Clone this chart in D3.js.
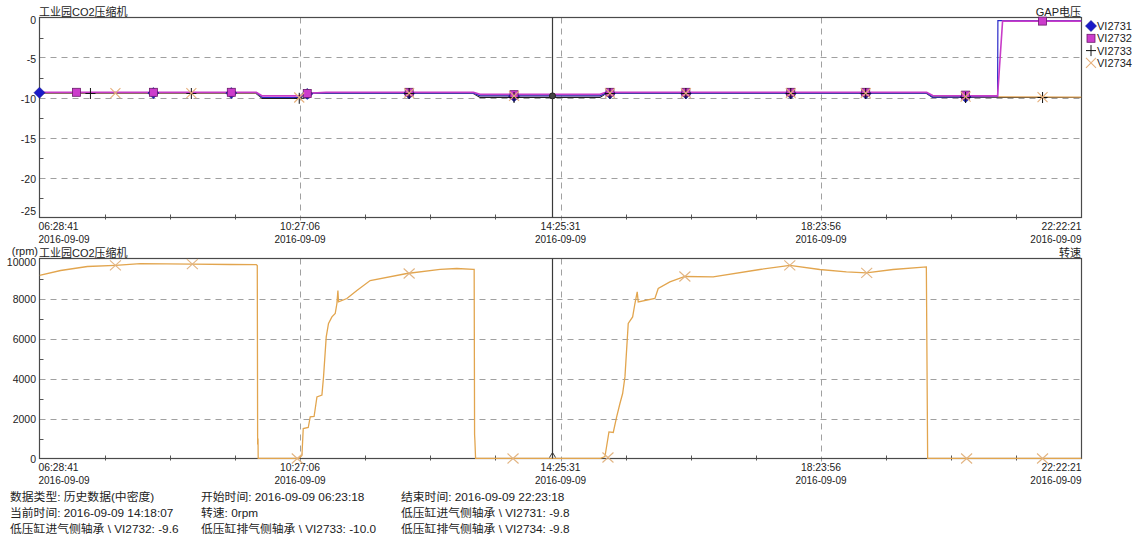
<!DOCTYPE html>
<html><head><meta charset="utf-8">
<script src="https://cdn.jsdelivr.net/npm/d3@7"></script>
<style>
body{margin:0;background:#fff}
svg{display:block}
text{font-family:"Liberation Sans",Arial,"Noto Sans CJK SC",sans-serif;fill:#222}
</style></head>
<body><svg id="c" width="1142" height="536"></svg>
<script>
// ---------- data ----------
const dateLabel = "2016-09-09";
const timeTicks = ["06:28:41","10:27:06","14:25:31","18:23:56","22:22:21"];
const cursorTime = "14:18:07";
const topYTicks = [0,-5,-10,-15,-20,-25];
const bottomYTicks = [0,2000,4000,6000,8000,10000];
const topTitle = "工业园CO2压缩机", topRight = "GAP电压";
const botUnit = "(rpm)", botTitle = "工业园CO2压缩机", botRight = "转速";
const seriesNames = ["VI2731","VI2732","VI2733","VI2734"];

const vi2731 = [["06:28:41",-9.4],["09:47:06",-9.4],["09:52:35",-10.0],["10:27:20",-10.0],["10:31:00",-9.45],
  ["13:05:47",-9.45],["13:11:55",-9.8],["15:01:38",-9.8],["15:07:07",-9.45],["20:00:38",-9.45],["20:06:07",-9.95],
  ["21:05:33",-9.9],["21:05:50",-0.4],["22:22:21",-0.4]];
const vi2732 = [["06:28:41",-9.35],["09:47:06",-9.35],["09:52:35",-9.8],["10:27:20",-9.8],["10:31:00",-9.5],
  ["10:51:00",-9.35],["13:05:47",-9.35],["13:11:55",-9.6],["15:01:38",-9.6],["15:07:07",-9.35],["20:00:38",-9.35],
  ["20:06:07",-9.75],["21:05:33",-9.8],["21:10:07",-0.45],["22:22:21",-0.45]];
const vi2733 = [["06:28:41",-9.5],["09:47:06",-9.5],["09:52:35",-10.1],["10:27:20",-10.1],["10:31:00",-9.5],
  ["13:05:47",-9.5],["13:11:55",-10.0],["15:01:38",-10.0],["15:07:07",-9.5],["20:00:38",-9.5],["20:06:07",-10.0],
  ["22:22:21",-10.0]];
const vi2734 = [["06:28:41",-9.45],["09:47:06",-9.45],["09:52:35",-10.0],["10:27:20",-10.0],["10:31:00",-9.45],
  ["13:05:47",-9.45],["13:11:55",-9.8],["15:01:38",-9.8],["15:07:07",-9.45],["20:00:38",-9.45],["20:06:07",-9.9],
  ["22:22:21",-9.95]];

const vi2731Marks = [["06:28:41",-9.4],["08:12:55",-9.45],["09:24:14",-9.45],["10:33:44",-9.55],["12:07:00",-9.5],
  ["13:43:00",-9.85],["15:10:47",-9.5],["16:20:16",-9.5],["17:56:16",-9.5],["19:04:51",-9.5],["20:36:17",-9.95]];
const vi2732Marks = [["07:02:31",-9.35],["08:12:55",-9.35],["09:24:14",-9.35],["10:33:44",-9.5],["12:07:00",-9.35],
  ["13:43:00",-9.65],["15:10:47",-9.35],["16:20:16",-9.35],["17:56:16",-9.35],["19:04:51",-9.35],["20:36:17",-9.7],
  ["21:46:42",-0.45]];
const vi2733Marks = [["07:15:19",-9.5],["08:47:40",-9.5],["10:26:25",-10.1],["12:07:00",-9.5],["13:43:00",-10.0],
  ["15:10:47",-9.5],["16:20:16",-9.5],["17:56:16",-9.5],["19:04:51",-9.5],["20:36:17",-10.0],["21:46:42",-10.0]];
const vi2734Marks = [["07:38:10",-9.45],["08:47:40",-9.45],["10:26:25",-10.0],["12:07:00",-9.45],["13:43:00",-9.8],
  ["15:10:47",-9.45],["16:20:16",-9.45],["17:56:16",-9.45],["19:04:51",-9.45],["20:36:17",-9.9],["21:46:42",-9.95]];

const rpm = [["06:28:41",9160],["06:48:00",9400],["07:12:30",9600],["07:38:10",9660],["08:01:00",9740],["08:48:35",9720],
  ["09:23:20",9700],["09:47:06",9690],["09:48:00",9650],["09:48:20",700],["09:48:40",1000],["09:48:50",0],
  ["10:25:57",0],["10:28:53",150],["10:30:04",1500],["10:34:39",1550],["10:36:28",2080],["10:40:00",2100],
  ["10:42:36",3080],["10:47:10",3170],["10:48:38",4080],["10:51:06",6080],["10:53:12",6750],["10:56:19",7080],
  ["10:59:20",7250],["11:00:53",7750],["11:01:48",8400],["11:02:21",7830],["11:10:02",8000],["11:19:10",8400],
  ["11:31:20",8900],["12:04:53",9250],["12:35:20",9460],["12:50:36",9500],["13:05:47",9460],["13:06:30",9460],
  ["13:06:53",1200],["13:07:10",900],["13:07:48",0],["15:01:38",0],["15:06:12",100],["15:09:52",1330],
  ["15:13:48",1300],["15:16:54",2080],["15:19:55",2750],["15:22:23",3250],["15:24:30",4080],["15:27:31",6750],
  ["15:31:32",7080],["15:33:38",7750],["15:35:44",8330],["15:36:39",7830],["15:51:55",8000],["15:54:57",8500],
  ["16:05:38",8830],["16:19:21",9100],["16:45:14",9080],["17:27:56",9450],["17:55:22",9660],["18:22:47",9450],
  ["18:47:12",9330],["19:05:29",9280],["19:29:49",9450],["20:00:21",9580],["20:01:32",0],["22:22:21",0]];
const rpmMarks = [["07:38:10",9660],["08:48:35",9720],["10:24:35",0],["12:07:00",9250],["13:42:05",0],["15:08:57",50],
  ["16:19:21",9100],["17:55:22",9660],["19:05:46",9280],["20:37:12",0],["21:46:42",0]];

const footer = [
  ["数据类型: 历史数据(中密度)","开始时间: 2016-09-09 06:23:18","结束时间: 2016-09-09 22:23:18"],
  ["当前时间: 2016-09-09 14:18:07","转速: 0rpm","低压缸进气侧轴承 \\ VI2731: -9.8"],
  ["低压缸进气侧轴承 \\ VI2732: -9.6","低压缸排气侧轴承 \\ VI2733: -10.0","低压缸排气侧轴承 \\ VI2734: -9.8"]];

// ---------- drawing ----------
const parse = s => { const p = s.split(":").map(Number); return new Date(2016,8,9,p[0],p[1],p[2]||0); };
const svg = d3.select("#c");
const X0 = 39.5, X1 = 1081.5;
const x = d3.scaleTime().domain([parse(timeTicks[0]), parse(timeTicks[timeTicks.length-1])]).range([X0, X1]);
const yTop = d3.scaleLinear().domain([-25,0]).range([217.5,17.5]);
const yBot = d3.scaleLinear().domain([0,10000]).range([458.5,258.5]);
const tickDates = timeTicks.map(parse);
const minorT = [];
for (let i=0;i<tickDates.length-1;i++) for (let j=1;j<4;j++)
  minorT.push(new Date(+tickDates[i] + (tickDates[i+1]-tickDates[i])*j/4));

function frame(y, ticks, id, labelY) {
  const [yb, yt] = y.range();
  const g = svg.append("g");
  g.append("rect").attr("x",X0).attr("y",yt).attr("width",X1-X0).attr("height",yb-yt).attr("fill","#fff");
  g.selectAll(null).data(ticks.slice(1,-1)).join("line")
    .attr("x1",X0).attr("x2",X1).attr("y1",d=>Math.round(y(d))+0.5).attr("y2",d=>Math.round(y(d))+0.5)
    .attr("stroke","#a0a0a0").attr("stroke-dasharray","6,5");
  g.selectAll(null).data(tickDates.slice(1,-1)).join("line")
    .attr("x1",d=>Math.round(x(d))+0.5).attr("x2",d=>Math.round(x(d))+0.5).attr("y1",yt).attr("y2",yb+3)
    .attr("stroke","#a0a0a0").attr("stroke-dasharray","6,5");
  const yminor = [];
  for (let i=0;i<ticks.length-1;i++) yminor.push((ticks[i]+ticks[i+1])/2);
  g.selectAll(null).data(yminor).join("line")
    .attr("x1",X0).attr("x2",X0+4).attr("y1",d=>Math.round(y(d))+0.5).attr("y2",d=>Math.round(y(d))+0.5)
    .attr("stroke","#555");
  g.selectAll(null).data(minorT).join("line")
    .attr("x1",d=>Math.round(x(d))+0.5).attr("x2",d=>Math.round(x(d))+0.5).attr("y1",yb-3).attr("y2",yb+2)
    .attr("stroke","#555");
  g.append("rect").attr("x",X0).attr("y",yt).attr("width",X1-X0).attr("height",yb-yt)
    .attr("fill","none").attr("stroke","#4a4a4a").attr("stroke-width",1.2);
  g.selectAll(null).data(ticks).join("text")
    .attr("x",36).attr("y",(d,i)=>labelY(y(d),i)).attr("text-anchor","end").attr("font-size",10.5).text(d=>d);
  const anchor = i => i===0 ? "start" : (i===timeTicks.length-1 ? "end" : "middle");
  g.selectAll(null).data(tickDates).join("text")
    .attr("x",(d,i)=> i===0 ? X0-1 : x(d)).attr("y",yb+12.5).attr("text-anchor",(d,i)=>anchor(i))
    .attr("font-size",10.3).text((d,i)=>timeTicks[i]);
  g.selectAll(null).data(tickDates).join("text")
    .attr("x",(d,i)=> i===0 ? X0-1 : x(d)).attr("y",yb+25.5).attr("text-anchor",(d,i)=>anchor(i))
    .attr("font-size",10).text(dateLabel);
  svg.append("clipPath").attr("id",id).append("rect").attr("x",X0).attr("y",yt-1).attr("width",X1-X0).attr("height",yb-yt+1.5);
  return g;
}

// top: lowest label raised, highest lowered to stay inside the frame
frame(yTop, topYTicks, "clipT", (py,i)=> i===topYTicks.length-1 ? py-2.5 : (i===0 ? py+6 : py+5));
frame(yBot, bottomYTicks, "clipB", (py,i)=> i===bottomYTicks.length-1 ? py+7 : py+4.5);

// titles
svg.append("text").attr("x",39).attr("y",15.5).attr("font-size",11).text(topTitle);
svg.append("text").attr("x",1081).attr("y",15.5).attr("text-anchor","end").attr("font-size",11).text(topRight);
svg.append("text").attr("x",38).attr("y",254.5).attr("text-anchor","end").attr("font-size",11).text(botUnit);
svg.append("text").attr("x",39).attr("y",256.5).attr("font-size",11).text(botTitle);
svg.append("text").attr("x",1081).attr("y",256.5).attr("text-anchor","end").attr("font-size",11).text(botRight);

// top lines
const lineT = d3.line().x(d=>x(parse(d[0]))).y(d=>yTop(d[1]));
const styles = {
  VI2731:{c:"#2828c8", data:vi2731, marks:vi2731Marks},
  VI2732:{c:"#c83cc8", data:vi2732, marks:vi2732Marks},
  VI2733:{c:"#202020", data:vi2733, marks:vi2733Marks},
  VI2734:{c:"#e2a75c", data:vi2734, marks:vi2734Marks}
};
const ct = svg.append("g").attr("clip-path","url(#clipT)");
["VI2733","VI2734","VI2731","VI2732"].forEach(n=>{
  ct.append("path").attr("d",lineT(styles[n].data)).attr("fill","none")
    .attr("stroke",styles[n].c).attr("stroke-width", n==="VI2732"?1.6:1.2);
});

function marker(g, type, cx, cy) {
  if (type==="VI2731") g.append("path").attr("d",`M${cx},${cy-5.5}L${cx+5.5},${cy}L${cx},${cy+5.5}L${cx-5.5},${cy}Z`)
      .attr("fill","#1a1ac8").attr("stroke","#10108a").attr("stroke-width",0.6);
  else if (type==="VI2732") g.append("rect").attr("x",cx-4).attr("y",cy-4).attr("width",8).attr("height",8)
      .attr("fill","#cc3ccc").attr("stroke","#6a1a6a").attr("stroke-width",0.8);
  else if (type==="VI2733") g.append("path").attr("d",`M${cx-5},${cy}H${cx+5}M${cx},${cy-5.5}V${cy+5.5}`)
      .attr("stroke","#111").attr("stroke-width",1);
  else g.append("path").attr("d",`M${cx-5},${cy-5}L${cx+5},${cy+5}M${cx-5},${cy+5}L${cx+5},${cy-5}`)
      .attr("stroke","#e6b07c").attr("stroke-width",1.1);
}
const mk = svg.append("g");
["VI2731","VI2732","VI2733","VI2734"].forEach(n=>{
  styles[n].marks.forEach(d=>marker(mk, n, x(parse(d[0])), yTop(d[1])));
});

// legend
seriesNames.forEach((n,i)=>{
  const cy = 26 + i*12.3;
  marker(svg, n, 1091, cy);
  svg.append("text").attr("x",1097).attr("y",cy+4).attr("font-size",11).text(n);
});

// bottom line
const lineB = d3.line().x(d=>x(parse(d[0]))).y(d=>yBot(d[1]));
svg.append("g").attr("clip-path","url(#clipB)").append("path").attr("d",lineB(rpm))
  .attr("fill","none").attr("stroke","#e2a54e").attr("stroke-width",1.3);
rpmMarks.forEach(d=>{
  const cx = x(parse(d[0])), cy = yBot(d[1]);
  svg.append("path").attr("d",`M${cx-5.5},${cy-5}L${cx+5.5},${cy+5}M${cx-5.5},${cy+5}L${cx+5.5},${cy-5}`)
    .attr("stroke","#e2b482").attr("stroke-width",1.1);
});

// cursor
const cx = Math.round(x(parse(cursorTime)))+0.5;
[yTop, yBot].forEach(y=>{
  svg.append("line").attr("x1",cx).attr("x2",cx).attr("y1",y.range()[1]).attr("y2",y.range()[0])
    .attr("stroke","#3a3a3a").attr("stroke-width",1.2);
});
svg.append("circle").attr("cx",cx).attr("cy",yTop(-9.8)).attr("r",3).attr("fill","#444").attr("stroke","#222");
svg.append("path").attr("d",`M${cx-3},${yBot(0)-1}L${cx},${yBot(0)-6}L${cx+3},${yBot(0)-1}`)
  .attr("fill","none").attr("stroke","#333");

// footer
const colX = [10, 201, 401], rowY = [501, 517, 533];
footer.forEach((row,r)=>row.forEach((t,c)=>{
  svg.append("text").attr("x",colX[c]).attr("y",rowY[r]).attr("font-size",11.8).text(t);
}));
</script></body></html>
